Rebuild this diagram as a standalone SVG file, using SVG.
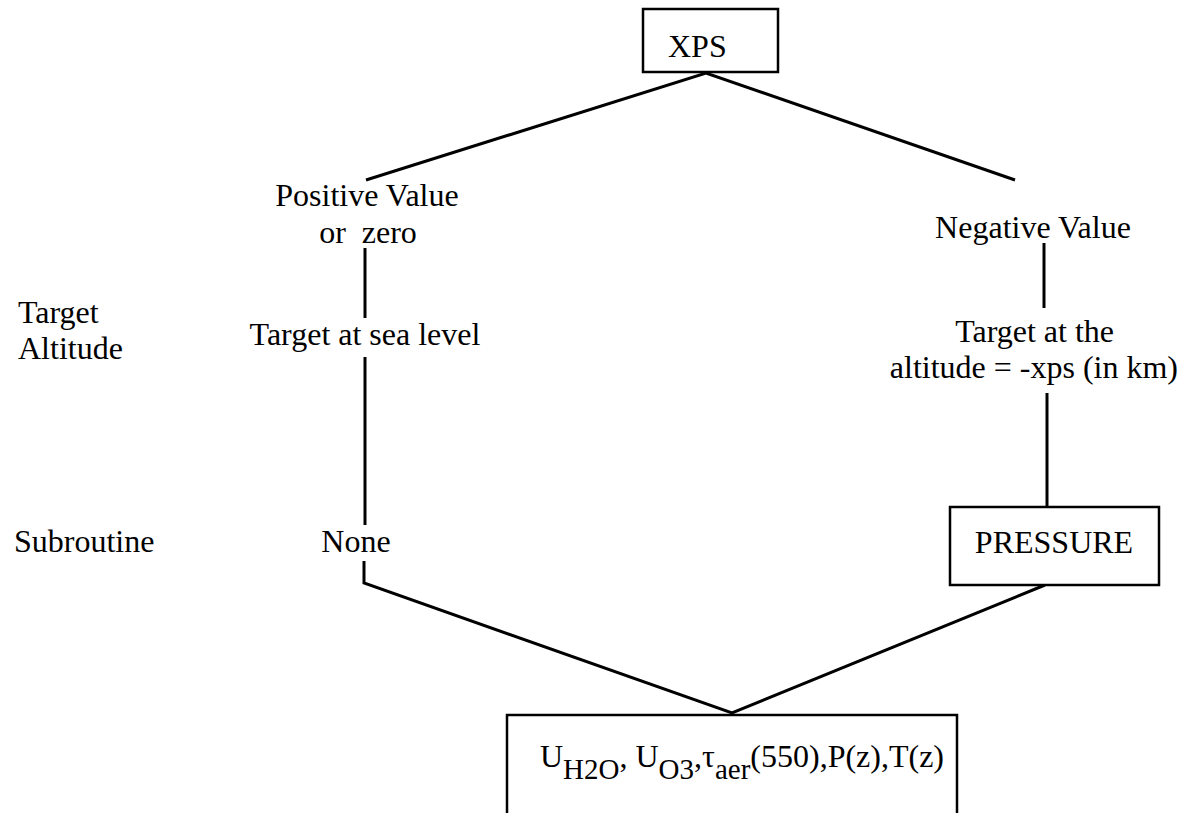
<svg xmlns="http://www.w3.org/2000/svg" width="1186" height="813" viewBox="0 0 1186 813">
<style>
text{font-family:"Liberation Serif","Times New Roman",serif;font-size:32px;fill:#000}
.sub{font-size:29px}
.box{fill:#fff;stroke:#000;stroke-width:2.5}
.ln{fill:none;stroke:#000;stroke-width:3}
</style>
<rect width="1186" height="813" fill="#fff"/>
<g id="connectors">
<polyline class="ln" points="366,180 706,73 1015,180"/>
<line class="ln" x1="365" y1="248" x2="365" y2="318"/>
<line class="ln" x1="365" y1="357" x2="365" y2="525"/>
<polyline class="ln" points="364,561 364,583 732,713 1045,585"/>
<line class="ln" x1="1044" y1="243" x2="1044" y2="308"/>
<line class="ln" x1="1047" y1="393" x2="1047" y2="506"/>
</g>
<g id="xps">
<rect class="box" x="643" y="9" width="135" height="63"/>
<text x="668" y="57">XPS</text>
</g>
<g id="positive">
<text x="367" y="206" text-anchor="middle">Positive Value</text>
<text x="368" y="243" text-anchor="middle" xml:space="preserve">or  zero</text>
</g>
<g id="negative">
<text x="1033" y="238" text-anchor="middle">Negative Value</text>
</g>
<g id="sealevel">
<text x="365" y="345" text-anchor="middle">Target at sea level</text>
</g>
<g id="altitude">
<text x="1114" y="342" text-anchor="end">Target at the</text>
<text x="1178" y="378" text-anchor="end">altitude = -xps (in km)</text>
</g>
<g id="none">
<text x="356" y="552" text-anchor="middle">None</text>
</g>
<g id="pressure">
<rect class="box" x="950" y="507" width="209" height="78"/>
<text x="1054" y="553" text-anchor="middle">PRESSURE</text>
</g>
<g id="output">
<rect class="box" x="507" y="715" width="450" height="110"/>
<text x="540" y="767">U<tspan class="sub" dy="12">H2O</tspan><tspan dy="-12">, U</tspan><tspan class="sub" dy="12">O3</tspan><tspan dy="-12">,τ</tspan><tspan class="sub" dy="12">aer</tspan><tspan dy="-12">(550),P(z),T(z)</tspan></text>
</g>
<g id="labels">
<text x="18" y="323">Target</text>
<text x="18" y="359">Altitude</text>
<text x="14" y="552">Subroutine</text>
</g>
</svg>
